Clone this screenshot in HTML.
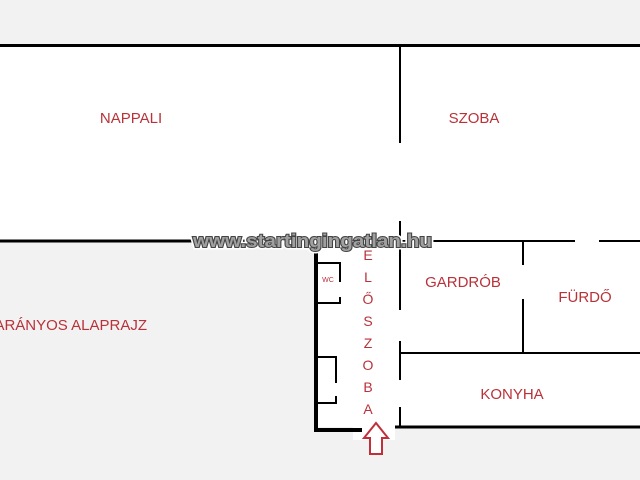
<!DOCTYPE html>
<html><head><meta charset="utf-8"><style>
html,body{margin:0;padding:0;background:#f2f2f2;}
svg{display:block}
</style></head><body>
<svg width="640" height="480" viewBox="0 0 640 480" xmlns="http://www.w3.org/2000/svg">
<rect width="640" height="480" fill="#f2f2f2"/>
<rect x="0" y="45" width="640" height="196" fill="#fff"/>
<rect x="315" y="241" width="325" height="186" fill="#fff"/>
<rect x="353" y="427" width="42" height="13" fill="#fff"/>
<g stroke="#000" fill="none">
<line x1="0" y1="45.5" x2="640" y2="45.5" stroke-width="3"/>
<line x1="400" y1="45" x2="400" y2="143" stroke-width="2"/>
<line x1="400" y1="221" x2="400" y2="310" stroke-width="2"/>
<line x1="400" y1="341" x2="400" y2="380" stroke-width="2"/>
<line x1="400" y1="407" x2="400" y2="426" stroke-width="2"/>
<line x1="0" y1="241" x2="316" y2="241" stroke-width="3"/>
<line x1="316" y1="241" x2="575" y2="241" stroke-width="2"/>
<line x1="599" y1="241" x2="640" y2="241" stroke-width="2"/>
<line x1="316" y1="241" x2="316" y2="431" stroke-width="4"/>
<line x1="314" y1="430" x2="362" y2="430" stroke-width="4"/>
<line x1="395" y1="427" x2="640" y2="427" stroke-width="3"/>
<line x1="400" y1="353" x2="640" y2="353" stroke-width="2"/>
<line x1="523" y1="241" x2="523" y2="265" stroke-width="2"/>
<line x1="523" y1="299" x2="523" y2="353" stroke-width="2"/>
<polyline points="316,263 340,263 340,282" stroke-width="2"/>
<polyline points="340,297 340,303 316,303" stroke-width="2"/>
<polyline points="316,357 336,357 336,383" stroke-width="2"/>
<polyline points="336,396 336,403 316,403" stroke-width="2"/>
</g>
<path d="M376,423 L388,438 L382,438 L382,454 L370,454 L370,438 L364,438 Z" fill="#fff" stroke="#c0303a" stroke-width="2"/>
<g fill="#b8323a" font-family="Liberation Sans, DejaVu Sans, sans-serif" font-size="15" text-anchor="middle">
<text x="131" y="123">NAPPALI</text>
<text x="474" y="123">SZOBA</text>
<text x="463" y="287">GARDRÓB</text>
<text x="585" y="302">FÜRDŐ</text>
<text x="512" y="399">KONYHA</text>
<text x="147" y="330" text-anchor="end">ARÁNYOS ALAPRAJZ</text>
<text x="328" y="282" font-size="7">WC</text>
<g font-size="14">
<text x="368" y="260">E</text><text x="368" y="282">L</text><text x="368" y="304">Ő</text><text x="368" y="326">S</text>
<text x="368" y="348">Z</text><text x="368" y="370">O</text><text x="368" y="392">B</text><text x="368" y="414">A</text>
</g>
</g>
<text x="193" y="247" textLength="239" lengthAdjust="spacingAndGlyphs" font-family="Liberation Sans, sans-serif" font-weight="bold" font-size="18" fill="#a0a0a0" stroke="#fff" stroke-width="5" paint-order="stroke">www.startingingatlan.hu</text>
<text x="193" y="247" textLength="239" lengthAdjust="spacingAndGlyphs" font-family="Liberation Sans, sans-serif" font-weight="bold" font-size="18" fill="#a0a0a0" stroke="#444" stroke-width="2" paint-order="stroke">www.startingingatlan.hu</text>
</svg>
</body></html>
